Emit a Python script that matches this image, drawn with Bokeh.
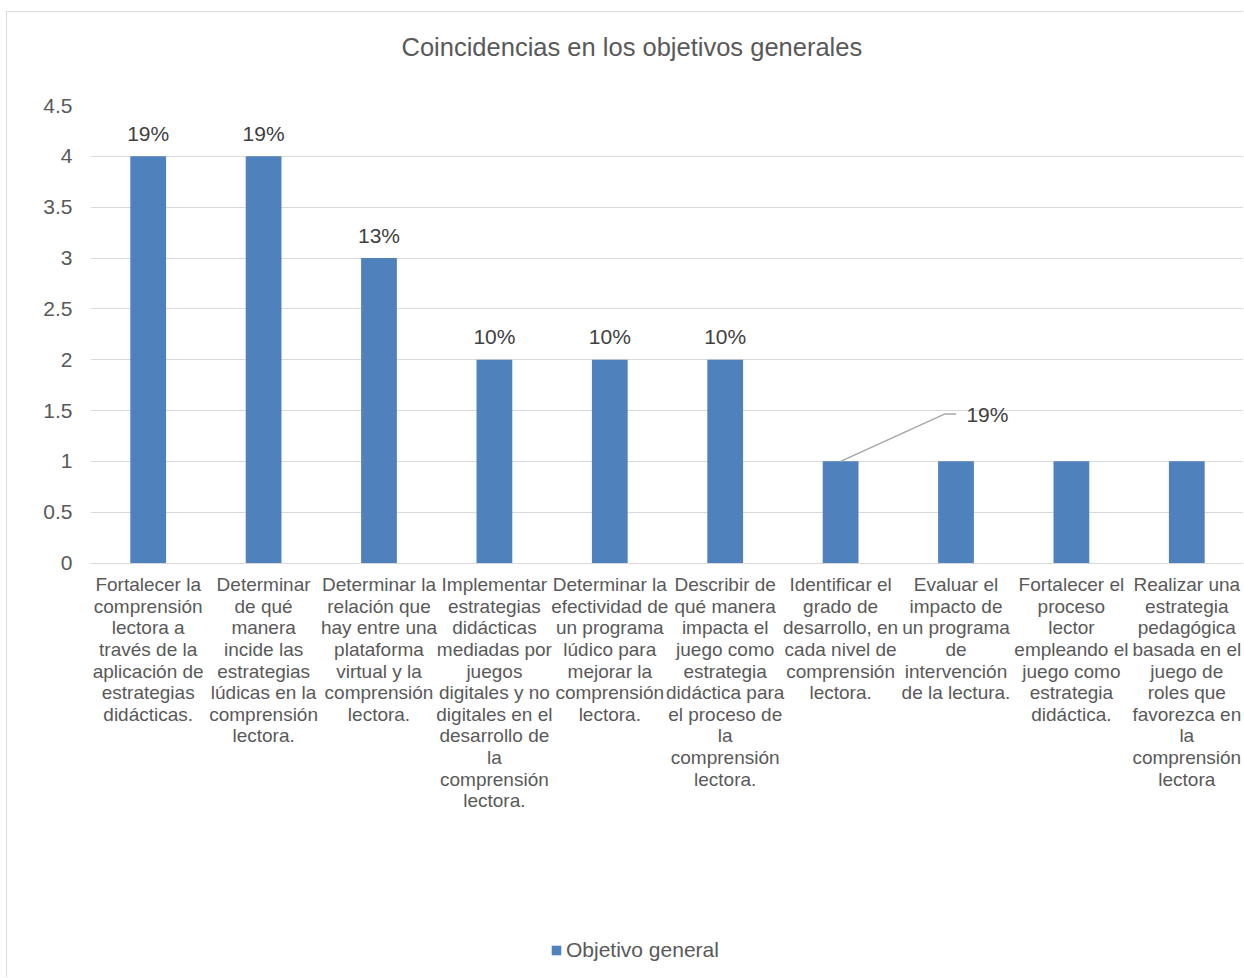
from bokeh.plotting import figure
from bokeh.models import (ColumnDataSource, FixedTicker, NumeralTickFormatter, Range1d, Legend,
                          LegendItem, LinearAxis, Title)
from bokeh.core.properties import value
from bokeh.embed import file_html
from bokeh.resources import INLINE

TITLE = "Coincidencias en los objetivos generales"
SERIES = "Objetivo general"
categories = [
    "Fortalecer la\ncomprensión\nlectora a\ntravés de la\naplicación de\nestrategias\ndidácticas.",
    "Determinar\nde qué\nmanera\nincide las\nestrategias\nlúdicas en la\ncomprensión\nlectora.",
    "Determinar la\nrelación que\nhay entre una\nplataforma\nvirtual y la\ncomprensión\nlectora.",
    "Implementar\nestrategias\ndidácticas\nmediadas por\njuegos\ndigitales y no\ndigitales en el\ndesarrollo de\nla\ncomprensión\nlectora.",
    "Determinar la\nefectividad de\nun programa\nlúdico para\nmejorar la\ncomprensión\nlectora.",
    "Describir de\nqué manera\nimpacta el\njuego como\nestrategia\ndidáctica para\nel proceso de\nla\ncomprensión\nlectora.",
    "Identificar el\ngrado de\ndesarrollo, en\ncada nivel de\ncomprensión\nlectora.",
    "Evaluar el\nimpacto de\nun programa\nde\nintervención\nde la lectura.",
    "Fortalecer el\nproceso\nlector\nempleando el\njuego como\nestrategia\ndidáctica.",
    "Realizar una\nestrategia\npedagógica\nbasada en el\njuego de\nroles que\nfavorezca en\nla\ncomprensión\nlectora",
]
values = [4, 4, 3, 2, 2, 2, 1, 1, 1, 1]
pct_labels = ["19%", "19%", "13%", "10%", "10%", "10%", "19%", "", "", ""]
y_ticks = [0, 0.5, 1, 1.5, 2, 2.5, 3, 3.5, 4, 4.5]

FONT = "Liberation Sans"
TXT = "#595959"
BAR = "#4F81BD"

xpos = [i + 0.5 for i in range(len(categories))]

# the frame reaches the bottom of the chart: the space under 0 holds the category texts and legend
y_bottom = -4.086
p = figure(width=1237, height=966, x_range=Range1d(0, len(categories)), y_range=Range1d(y_bottom, 4.5),
           output_backend="svg", toolbar_location=None, x_axis_type=None,
           min_border_left=83, min_border_right=0, min_border_top=93, min_border_bottom=0)
p.styles = {"border-left": "1px solid #D9D9D9", "border-top": "1px solid #D9D9D9",
            "margin-left": "6px", "margin-top": "11px"}
p.outline_line_color = None
p.background_fill_color = "white"
p.border_fill_color = "white"

# gap between the plot area and the title, then the title itself
p.add_layout(Title(text=" ", text_font_size="1px", standoff=42), "above")
p.add_layout(Title(text=TITLE, text_font=FONT, text_font_size="25.5px", text_font_style="normal",
                   text_color=TXT, align="left", offset=311, standoff=0), "above")

src = ColumnDataSource(dict(x=xpos, top=values, lab=pct_labels))
bars = p.vbar(x="x", top="top", width=0.31, bottom=0, source=src, fill_color=BAR, line_color=None)

# data labels (all but the one with a leader line)
main = ColumnDataSource(dict(x=xpos[:6], y=values[:6], lab=pct_labels[:6]))
p.text(x="x", y="y", text="lab", source=main, text_font=value(FONT), text_font_size="21px",
       text_color="#404040", text_align="center", text_baseline="middle", y_offset=-23)

# label with leader line for the 7th bar
k = 6
lead_dx, lead_dx2, lead_y, txt_dx = 0.9, 1.0, 1.465, 1.09
p.line(x=[xpos[k], xpos[k] + lead_dx, xpos[k] + lead_dx2], y=[values[k], lead_y, lead_y],
       line_color="#A6A6A6", line_width=1.5)
p.text(x=[xpos[k] + txt_dx], y=[lead_y], text=[pct_labels[k]], text_font=value(FONT), text_font_size="21px",
       text_color="#404040", text_align="left", text_baseline="middle")

# grid
p.xgrid.grid_line_color = None
p.ygrid.grid_line_color = "#D9D9D9"
p.ygrid.ticker = FixedTicker(ticks=y_ticks)

# y axis
p.yaxis.ticker = FixedTicker(ticks=y_ticks)
p.yaxis.formatter = NumeralTickFormatter(format="0.[0]")
p.yaxis.axis_line_color = None
p.yaxis.major_tick_line_color = None
p.yaxis.minor_tick_line_color = None
p.yaxis.major_tick_out = 0
p.yaxis.major_label_standoff = 18
p.yaxis.major_label_text_font = FONT
p.yaxis.major_label_text_font_size = "21px"
p.yaxis.major_label_text_color = TXT

# category axis drawn at y = 0
xaxis = LinearAxis(fixed_location=0, ticker=FixedTicker(ticks=xpos))
xaxis.major_label_overrides = {x: c for x, c in zip(xpos, categories)}
xaxis.axis_line_color = "#D9D9D9"
xaxis.major_tick_line_color = None
xaxis.minor_tick_line_color = None
xaxis.major_tick_out = 0
xaxis.major_tick_in = 0
xaxis.major_label_standoff = 11
xaxis.major_label_text_font = FONT
xaxis.major_label_text_font_size = "19px"
xaxis.major_label_text_line_height = 1.03
xaxis.major_label_text_color = TXT
xaxis.major_label_orientation = "horizontal"
p.add_layout(xaxis, "below")

legend = Legend(items=[LegendItem(label=SERIES, renderers=[bars])], location=(460, 16),
                orientation="horizontal", padding=0, margin=0, spacing=0,
                glyph_width=12, glyph_height=12, label_standoff=4,
                label_text_font=FONT, label_text_font_size="21px", label_text_color=TXT,
                border_line_color=None, background_fill_alpha=0)
p.add_layout(legend, "center")

open("out.html", "w").write(file_html(p, INLINE))
